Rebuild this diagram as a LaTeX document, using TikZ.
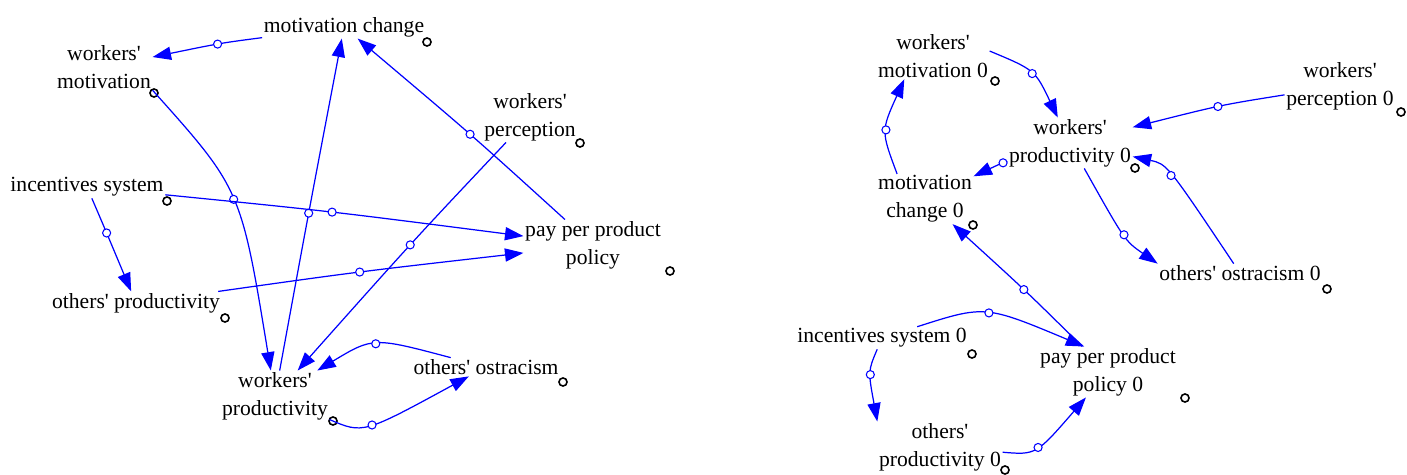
\documentclass[tikz,border=0pt]{standalone}
\usepackage{fontspec}
\setmainfont{Liberation Serif}
\usetikzlibrary{arrows.meta}
\newcommand{\myap}{\textquotesingle}
\tikzset{
 var/.style={align=center, inner sep=0pt, outer sep=1pt, font=\fontsize{12.3}{15.8}\selectfont},
 arr/.style={draw=blue, line width=0.7pt, -{Triangle[length=10.5pt,width=7.5pt]}},
 hc/.style={circle, draw=blue, fill=white, line width=0.6pt, inner sep=0pt, minimum size=4.6pt},
 bc/.style={circle, draw=black, line width=0.9pt, inner sep=0pt, minimum size=4.6pt},
}
\begin{document}
\begin{tikzpicture}[x=0.02cm, y=-0.02cm]
\useasboundingbox (0,0) rectangle (1407,474);
% ---------- left diagram ----------
\node[var] (mc) at (344,27) {motivation change};
\node[var] (wm) at (104,67) {workers\myap\\motivation};
\node[var] (wpc) at (530,117) {workers\myap\\perception};
\node[var] (is) at (87,187) {incentives system};
\node[var] (ppp) at (593,245) {pay per product\\policy};
\node[var] (op) at (136,303) {others\myap{} productivity};
\node[var] (wp) at (275,396) {workers\myap\\productivity};
\node[var] (oo) at (486,367) {others\myap{} ostracism};
\node[bc] (mco) at (427,42) {};
\node[bc] (wmo) at (154,93) {};
\node[bc] (wpco) at (580,143) {};
\node[bc] (iso) at (167,201) {};
\node[bc] (pppo) at (670,271) {};
\node[bc] (opo) at (225,318) {};
\node[bc] (wpo) at (333,421) {};
\node[bc] (ooo) at (563,382) {};
\draw[arr] (mc) .. controls (221,43) .. (wm) node[hc,pos=.5]{};
\draw[arr] (wm.south east) .. controls (241,189) .. (wp) node[hc,pos=.5]{};
\draw[arr] (wp) .. controls (308,216) .. (mc) node[hc,pos=.5]{};
\draw[arr] (ppp) .. controls (473,136) .. (mc) node[hc,pos=.5]{};
\draw[arr] (wpc) .. controls (413,241) .. (wp) node[hc,pos=.5]{};
\draw[arr] (is) .. controls (328,211) .. (ppp) node[hc,pos=.5]{};
\draw[arr] (is) .. controls (105,229) .. (op) node[hc,pos=.5]{};
\draw[arr] (op) .. controls (356,272) .. (ppp) node[hc,pos=.5]{};
\draw[arr] (oo) .. controls (373,337) .. (wp) node[hc,pos=.5]{};
\draw[arr] (wp) .. controls (363,434) .. (oo) node[hc,pos=.5]{};
% ---------- right diagram ----------
\node[var] (wm0) at (933,56) {workers\myap\\motivation 0};
\node[var] (wpc0) at (1340,86) {workers\myap\\perception 0};
\node[var] (wp0) at (1070,143) {workers\myap\\productivity 0};
\node[var] (mc0) at (925,199) {motivation\\change 0};
\node[var] (oo0) at (1240,273) {others\myap{} ostracism 0};
\node[var] (is0) at (882,338) {incentives system 0};
\node[var] (ppp0) at (1108,372) {pay per product\\policy 0};
\node[var] (op0) at (940,447) {others\myap\\productivity 0};
\node[bc] (wm0o) at (995,81) {};
\node[bc] (wpc0o) at (1401,112) {};
\node[bc] (wp0o) at (1135,168) {};
\node[bc] (mc0o) at (973,225) {};
\node[bc] (oo0o) at (1327,289) {};
\node[bc] (is0o) at (972,354) {};
\node[bc] (ppp0o) at (1185,398) {};
\node[bc] (op0o) at (1005,470) {};
\draw[arr] (wm0.5) .. controls (1035,70) .. (wp0) node[hc,pos=.5]{};
\draw[arr] (wpc0) .. controls (1221,105) .. (wp0) node[hc,pos=.5]{};
\draw[arr] (wp0) .. controls (1002,163) .. (mc0) node[hc,pos=.3]{};
\draw[arr] (mc0.138) .. controls (881,131) .. (wm0.219) node[hc,pos=.5]{};
\draw[arr] (wp0) .. controls (1125,241) .. (oo0.north west) node[hc,pos=.5]{};
\draw[arr] (oo0) .. controls (1167,164) .. (wp0) node[hc,pos=.5]{};
\draw[arr] (ppp0) .. controls (1026,291) .. (mc0) node[hc,pos=.5]{};
\draw[arr] (is0) .. controls (985,305) .. (ppp0.133) node[hc,pos=.5]{};
\draw[arr] (is0) .. controls (868,371) .. (op0.north west) node[hc,pos=.5]{};
\draw[arr] (op0) .. controls (1036,455) .. (ppp0) node[hc,pos=.5]{};
\end{tikzpicture}
\end{document}
